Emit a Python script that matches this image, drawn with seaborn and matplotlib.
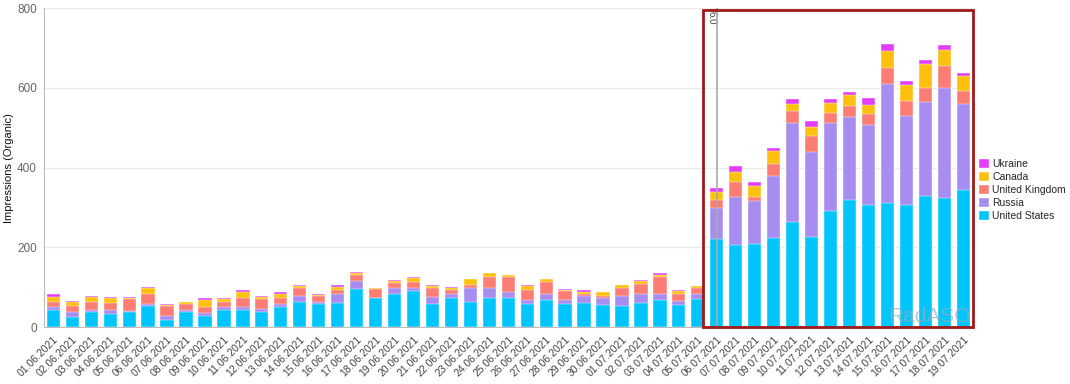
import numpy as np
import pandas as pd
import matplotlib
matplotlib.use("Agg")
import matplotlib.pyplot as plt
from matplotlib.patches import Rectangle
import seaborn as sns

# Data
dates = pd.date_range("2021-06-01", "2021-07-19").strftime("%d.%m.%Y").tolist()

united_states = [43, 26, 37, 32, 38, 54, 17, 37, 29, 43, 44, 37, 50, 63, 59, 60, 95,
                 72, 84, 91, 59, 74, 63, 74, 74, 59, 69, 59, 60, 55, 52, 60, 69, 55, 70,
                 222, 206, 208, 223, 264, 227, 290, 319, 307, 311, 307, 329, 323, 344]
russia = [7, 11, 7, 11, 3, 5, 12, 5, 7, 8, 7, 8, 7, 15, 5, 24, 20,
          2, 15, 8, 17, 10, 34, 25, 13, 10, 14, 10, 19, 19, 26, 23, 14, 11, 12,
          78, 121, 108, 157, 247, 211, 223, 209, 201, 298, 223, 235, 277, 215]
united_kingdom = [14, 17, 20, 18, 29, 25, 24, 16, 15, 12, 21, 26, 17, 19, 13, 9, 17,
                  22, 12, 15, 22, 10, 8, 28, 39, 25, 30, 22, 5, 3, 21, 26, 43, 18, 16,
                  20, 38, 11, 30, 32, 41, 25, 27, 27, 41, 38, 35, 55, 34]
canada = [12, 10, 12, 11, 4, 15, 3, 5, 17, 7, 17, 4, 10, 7, 4, 7, 4,
          1, 4, 10, 5, 4, 15, 9, 4, 8, 7, 3, 5, 10, 6, 6, 6, 7, 4,
          19, 25, 28, 31, 17, 22, 24, 28, 22, 43, 40, 62, 39, 37]
ukraine = [6, 1, 2, 3, 1, 1, 2, 1, 4, 3, 4, 2, 4, 1, 3, 5, 2,
           0, 3, 1, 2, 2, 1, 1, 0, 3, 0, 1, 3, 2, 1, 3, 3, 3, 1,
           9, 13, 9, 7, 12, 17, 11, 7, 17, 16, 10, 9, 14, 7]

series = ["United States", "Russia", "United Kingdom", "Canada", "Ukraine"]
colors = ["#00C5FC", "#A78DF0", "#FC7D74", "#FDC00E", "#E23DF7"]

df = pd.DataFrame({"date": dates, "United States": united_states, "Russia": russia,
                   "United Kingdom": united_kingdom, "Canada": canada, "Ukraine": ukraine})
cum = df[series].cumsum(axis=1)
cum["date"] = df["date"]

sns.set_style("white")
plt.rcParams["font.family"] = ["Liberation Sans", "DejaVu Sans"]

fig = plt.figure(figsize=(10.7, 3.84), dpi=100)
ax = fig.add_axes([0.041, 0.148, 0.868, 0.831])

# stacked bars: draw cumulative totals from the top layer down
for name, col in reversed(list(zip(series, colors))):
    sns.barplot(data=cum, x="date", y=name, color=col, width=0.7, ax=ax,
                saturation=1, edgecolor="white", linewidth=0.3, label=name)

ax.set_ylim(0, 800)
ax.set_xlim(-0.5, len(dates) - 0.5)
ax.set_yticks([0, 200, 400, 600, 800])
ax.yaxis.grid(True, color="#ebebeb", linewidth=0.8)
ax.set_axisbelow(True)
ax.set_xlabel("")
ax.set_ylabel("Impressions (Organic)", fontsize=8, color="#111111", labelpad=2)

for s in ["top", "right"]:
    ax.spines[s].set_visible(False)
for s in ["left", "bottom"]:
    ax.spines[s].set_color("#bbbbbb")
    ax.spines[s].set_linewidth(0.8)

ax.tick_params(axis="y", labelsize=8.5, labelcolor="#666666", length=3, color="#bbbbbb", pad=2)
ax.set_xticks(range(len(dates)))
ax.set_xticklabels(dates, rotation=45, ha="right", rotation_mode="anchor",
                   fontsize=7.5, color="#444444")
ax.tick_params(axis="x", length=0, pad=5)
ax.set_xticks(np.arange(len(dates)) - 0.5, minor=True)
ax.tick_params(axis="x", which="minor", length=4, color="#bbbbbb")

# release marker and highlight box
ax.axvline(35, color="#aaaaaa", linewidth=1.2, zorder=5)
ax.text(34.72, 792, "6.0", rotation=-90, ha="center", va="top", fontsize=7, color="#444444")
ax.add_patch(Rectangle((34.3, 0), 48.5 - 34.3, 795, fill=False, edgecolor="#A01818",
                       linewidth=2, clip_on=False, zorder=6))

ax.text(0.998, 0.005, "RadASO", transform=ax.transAxes, ha="right", va="bottom",
        fontsize=15, color="#9aaab8", alpha=0.65, zorder=7)

handles, labels = ax.get_legend_handles_labels()
ax.legend(handles, labels, loc="center left", bbox_to_anchor=(1.0, 0.43), frameon=False,
          fontsize=7.5, handlelength=1.0, handleheight=1.0, handletextpad=0.3,
          labelspacing=0.25, borderaxespad=0.2)

fig.savefig("out.png", dpi=100)
